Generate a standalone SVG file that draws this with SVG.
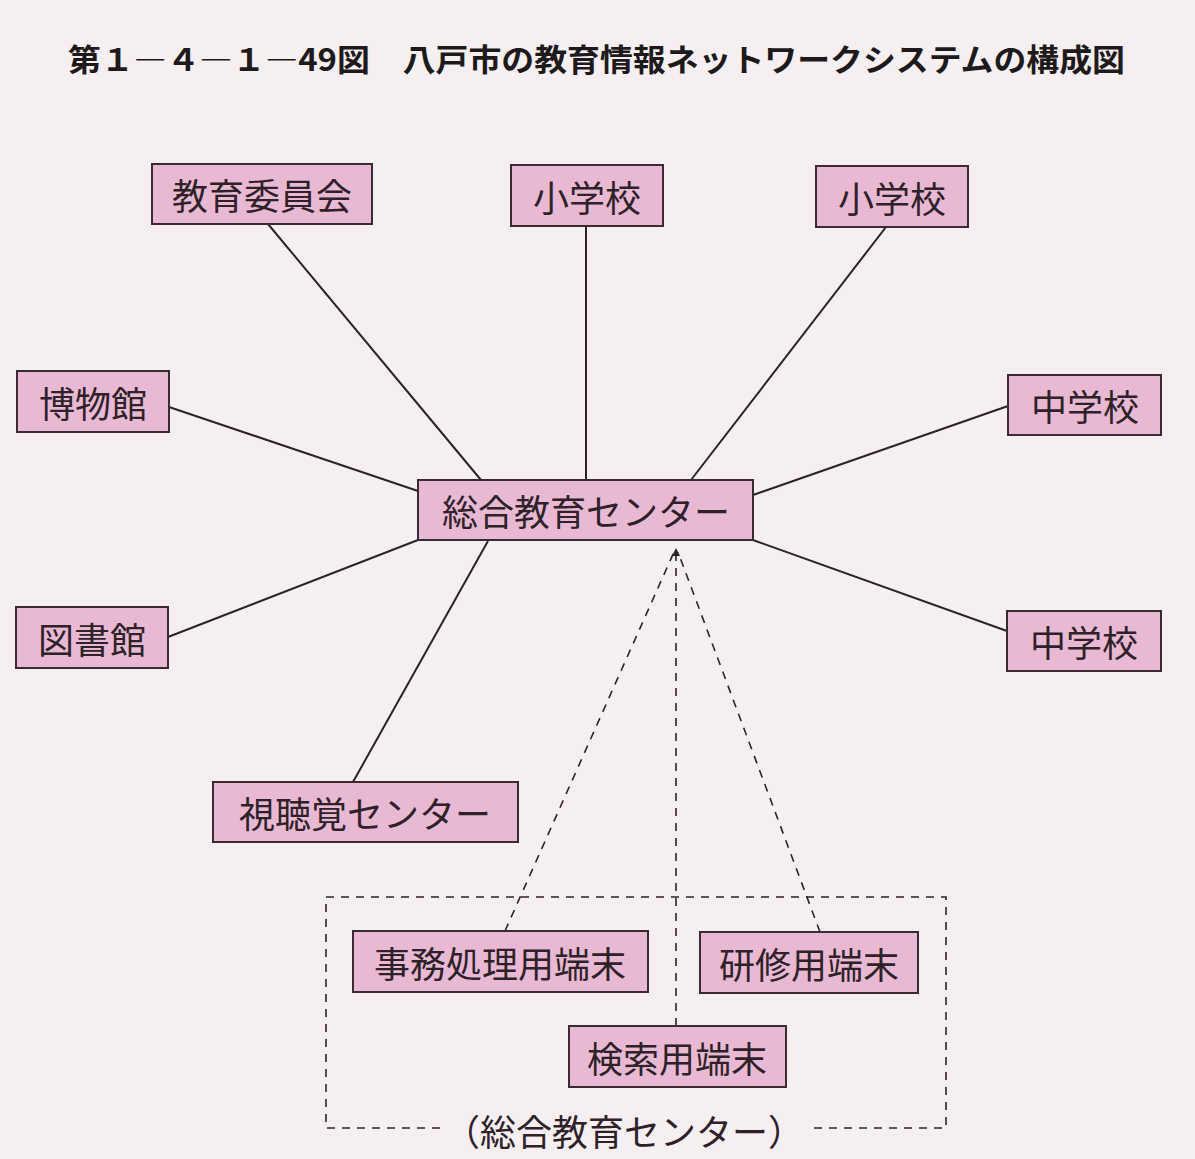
<svg xmlns="http://www.w3.org/2000/svg" width="1195" height="1159" viewBox="0 0 1195 1159">
<style>
.bg{fill:#f6eff1}
.box{fill:#e9b9d3;stroke:#3a2b33;stroke-width:2}
.lbl{font-family:"Noto Sans CJK JP","Noto Sans CJK SC",sans-serif;font-size:36px;fill:#2e2228;text-anchor:middle;dominant-baseline:central}
.title{font-family:"Noto Sans CJK JP","Noto Sans CJK SC",sans-serif;font-size:31px;font-weight:bold;fill:#1e1a1c}
.ln{stroke:#2e2228;stroke-width:2;fill:none}
.dl{stroke:#2e2228;stroke-width:1.6;fill:none;stroke-dasharray:8 7}
</style>
<defs>
<marker id="ah" markerWidth="8" markerHeight="8" refX="4" refY="4" orient="auto" markerUnits="userSpaceOnUse">
<path d="M0,0 L8,4 L0,8 z" fill="#2e2228"/>
</marker>
</defs>
<rect class="bg" x="0" y="0" width="1195" height="1159"/>
<text class="title" x="68" y="71" textLength="1057" lengthAdjust="spacingAndGlyphs">第１―４―１―49図　八戸市の教育情報ネットワークシステムの構成図</text>

<g id="connectors">
<line class="ln" x1="268" y1="224" x2="481" y2="480"/>
<line class="ln" x1="586" y1="226" x2="586" y2="480"/>
<line class="ln" x1="886" y1="227" x2="691" y2="480"/>
<line class="ln" x1="169" y1="407" x2="418" y2="491"/>
<line class="ln" x1="1008" y1="406" x2="753" y2="495"/>
<line class="ln" x1="168" y1="637" x2="418" y2="540"/>
<line class="ln" x1="1007" y1="631" x2="753" y2="540"/>
<line class="ln" x1="353" y1="782" x2="488" y2="541"/>
<line class="dl" x1="505" y1="931" x2="674" y2="552"/>
<line class="dl" x1="676" y1="1026" x2="676" y2="552" marker-end="url(#ah)"/>
<line class="dl" x1="820" y1="932" x2="678" y2="552"/>
<path class="dl" d="M440,1128 L326,1128 L326,897 L946,897 L946,1128 L812,1128"/>
</g>

<g id="n-kyoiku-iinkai"><rect class="box" x="152" y="164" width="220" height="60"/><text class="lbl" x="262" y="194">教育委員会</text></g>
<g id="n-shogakko1"><rect class="box" x="511" y="165" width="152" height="61"/><text class="lbl" x="587" y="196">小学校</text></g>
<g id="n-shogakko2"><rect class="box" x="816" y="166" width="152" height="61"/><text class="lbl" x="892" y="197">小学校</text></g>
<g id="n-hakubutsukan"><rect class="box" x="17" y="371" width="152" height="61"/><text class="lbl" x="93" y="402">博物館</text></g>
<g id="n-chugakko1"><rect class="box" x="1008" y="375" width="153" height="60"/><text class="lbl" x="1085" y="405">中学校</text></g>
<g id="n-center"><rect class="box" x="418" y="480" width="335" height="60"/><text class="lbl" x="586" y="510" font-size="37">総合教育センター</text></g>
<g id="n-toshokan"><rect class="box" x="16" y="607" width="152" height="61"/><text class="lbl" x="92" y="638">図書館</text></g>
<g id="n-chugakko2"><rect class="box" x="1007" y="611" width="154" height="60"/><text class="lbl" x="1084" y="641">中学校</text></g>
<g id="n-shichokaku"><rect class="box" x="213" y="782" width="305" height="60"/><text class="lbl" x="365" y="812">視聴覚センター</text></g>
<g id="n-jimu"><rect class="box" x="353" y="931" width="295" height="61"/><text class="lbl" x="500" y="962">事務処理用端末</text></g>
<g id="n-kenshu"><rect class="box" x="700" y="932" width="218" height="61"/><text class="lbl" x="809" y="963">研修用端末</text></g>
<g id="n-kensaku"><rect class="box" x="569" y="1026" width="217" height="61"/><text class="lbl" x="677" y="1057">検索用端末</text></g>
<text class="lbl" x="624" y="1130" font-size="34">（総合教育センター）</text>
</svg>
